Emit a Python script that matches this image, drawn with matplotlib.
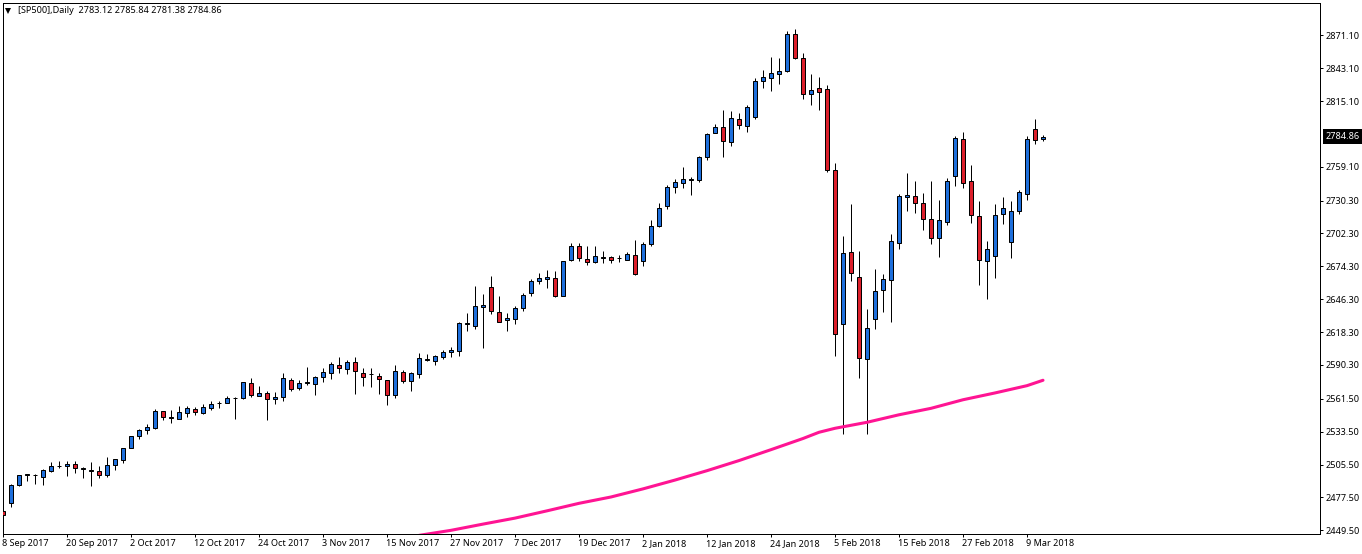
import matplotlib
matplotlib.use("Agg")
import matplotlib.pyplot as plt
from matplotlib.transforms import ScaledTranslation, blended_transform_factory

plt.rcParams['font.family'] = ['Noto Sans', 'DejaVu Sans']

bar_open = [2466.3,2472.8,2487.8,2496.6,2496.6,2494.9,2500.0,2504.0,2504.3,2506.3,
 2502.0,2500.2,2500.3,2496.6,2505.1,2509.4,2519.6,2529.8,2534.9,2536.6,
 2550.9,2545.2,2544.6,2549.7,2553.2,2549.4,2553.7,2557.6,2558.3,2561.9,
 2562.2,2575.3,2564.2,2566.8,2561.3,2563.0,2577.5,2570.7,2575.0,2574.1,
 2580.4,2583.8,2590.6,2587.2,2593.2,2583.8,2582.3,2581.3,2577.9,2565.1,
 2584.7,2576.7,2583.0,2594.8,2594.0,2597.4,2601.4,2602.2,2625.2,2623.5,
 2639.7,2657.1,2635.8,2628.6,2629.8,2639.2,2651.9,2662.2,2663.9,2664.7,
 2649.4,2680.1,2692.0,2680.9,2678.4,2681.7,2682.6,2681.1,2680.1,2684.3,
 2679.2,2693.7,2709.0,2725.5,2742.2,2745.3,2748.2,2748.2,2767.8,2788.2,
 2793.3,2780.5,2800.1,2794.2,2801.8,2832.5,2835.1,2838.5,2841.0,2872.5,
 2852.1,2821.4,2826.5,2825.7,2756.7,2625.5,2686.9,2665.6,2595.7,2629.8,
 2654.5,2663.0,2694.5,2733.7,2734.6,2728.6,2715.0,2698.8,2712.4,2751.6,
 2783.1,2747.3,2717.5,2679.2,2683.5,2719.2,2695.4,2721.8,2736.3,2791.6,2783.12]
bar_high = [2468.0,2489.3,2496.9,2497.8,2497.8,2502.0,2507.4,2508.3,2508.9,2508.3,
 2503.4,2507.4,2504.0,2511.7,2510.6,2519.9,2530.2,2536.1,2540.4,2553.2,
 2551.4,2552.3,2555.1,2555.1,2554.3,2557.4,2559.6,2560.0,2564.2,2563.0,
 2576.1,2579.6,2572.1,2568.5,2567.0,2583.2,2579.6,2577.9,2588.3,2581.3,
 2588.1,2593.2,2596.8,2594.9,2596.8,2587.5,2587.5,2583.8,2577.9,2590.0,
 2586.4,2584.7,2600.8,2600.0,2599.1,2603.4,2606.0,2627.3,2634.3,2657.3,
 2650.5,2665.8,2648.8,2634.3,2640.9,2651.9,2663.9,2669.0,2671.5,2670.1,
 2679.2,2694.5,2694.5,2692.0,2692.0,2687.7,2683.5,2684.3,2686.9,2697.1,
 2695.4,2714.1,2728.6,2743.3,2748.5,2758.7,2750.7,2768.6,2788.2,2795.9,
 2807.2,2806.4,2805.3,2812.1,2835.1,2841.9,2853.0,2852.1,2874.5,2876.8,
 2856.4,2838.5,2835.9,2829.1,2762.7,2700.5,2727.7,2687.7,2638.3,2672.4,
 2668.1,2702.2,2736.3,2754.2,2747.3,2737.1,2747.3,2731.2,2749.9,2785.7,
 2789.1,2761.0,2730.3,2696.2,2727.7,2733.7,2730.3,2739.7,2785.7,2800.1,2785.84]
bar_low = [2457.4,2469.3,2487.0,2491.5,2488.9,2487.8,2499.2,2502.6,2495.7,2498.3,
 2494.0,2487.2,2494.0,2494.9,2500.6,2506.8,2519.6,2527.0,2531.3,2535.8,
 2543.4,2540.9,2544.6,2546.0,2547.7,2548.9,2552.3,2553.4,2558.3,2544.3,
 2561.3,2563.0,2564.2,2543.4,2557.1,2559.6,2568.1,2569.0,2573.6,2564.7,
 2575.8,2578.4,2583.5,2583.0,2565.6,2572.4,2571.5,2565.6,2556.2,2562.2,
 2575.3,2568.1,2579.2,2593.7,2590.3,2595.7,2597.1,2598.0,2619.2,2620.9,
 2604.8,2633.7,2627.3,2619.2,2625.2,2636.3,2649.1,2659.3,2655.9,2648.2,
 2649.4,2678.9,2678.9,2675.5,2677.2,2677.2,2677.2,2678.0,2680.1,2666.9,
 2674.6,2691.6,2707.8,2723.2,2736.8,2741.0,2735.1,2746.1,2764.9,2788.2,
 2767.4,2776.8,2791.3,2788.7,2799.8,2826.2,2823.7,2829.6,2839.8,2850.9,
 2816.8,2811.7,2807.5,2754.7,2598.0,2531.9,2661.8,2579.2,2531.9,2620.9,
 2635.4,2626.9,2689.1,2721.5,2719.7,2705.3,2693.3,2682.3,2709.5,2742.7,
 2741.0,2711.2,2658.4,2646.5,2664.4,2710.4,2681.4,2718.9,2730.8,2778.5,2781.38]
bar_close = [2462.5,2488.4,2496.9,2497.8,2496.9,2501.2,2504.6,2504.6,2506.3,2502.6,
 2502.6,2501.0,2496.6,2505.5,2510.6,2519.9,2530.2,2535.3,2537.8,2551.4,
 2546.3,2545.8,2550.6,2554.0,2550.3,2554.9,2557.4,2558.2,2562.5,2562.5,
 2575.5,2564.7,2566.8,2561.3,2563.4,2579.6,2570.2,2575.3,2575.6,2580.1,
 2584.7,2591.5,2588.1,2593.2,2585.5,2580.4,2582.9,2578.4,2565.1,2585.5,
 2576.7,2583.8,2596.6,2595.4,2598.3,2601.7,2603.4,2626.4,2625.8,2640.9,
 2641.7,2636.6,2627.3,2630.7,2639.2,2650.2,2662.2,2664.7,2665.6,2649.4,
 2679.2,2692.0,2681.8,2678.0,2683.5,2682.3,2680.1,2681.7,2685.2,2668.1,
 2693.7,2709.0,2724.3,2741.9,2746.5,2749.0,2748.8,2767.8,2787.4,2793.0,
 2781.4,2801.0,2795.0,2810.4,2832.5,2835.9,2839.3,2841.0,2872.5,2852.1,
 2821.4,2824.8,2823.1,2756.7,2617.0,2686.0,2669.0,2596.6,2622.1,2653.7,
 2663.9,2696.2,2734.6,2735.4,2728.6,2715.0,2698.8,2714.1,2747.3,2784.0,
 2745.6,2718.4,2680.1,2689.4,2718.4,2724.3,2721.8,2738.0,2783.1,2782.3,2784.86]

ma_index = [52,56,60,64,68,72,76,80,84,88,92,96,100,102,104,108,112,116,120,124,128,130]
ma_value = [2445.2,2449.5,2454.8,2459.9,2466.1,2472.5,2477.9,2484.8,2492.3,2500.3,2508.9,
            2518.2,2527.7,2533.0,2536.4,2541.5,2547.9,2553.4,2560.7,2566.5,2572.7,2577.3]

date_labels = ['8 Sep 2017','20 Sep 2017','2 Oct 2017','12 Oct 2017','24 Oct 2017','3 Nov 2017',
               '15 Nov 2017','27 Nov 2017','7 Dec 2017','19 Dec 2017','2 Jan 2018','12 Jan 2018',
               '24 Jan 2018','5 Feb 2018','15 Feb 2018','27 Feb 2018','9 Mar 2018']
date_index = [i*8 for i in range(len(date_labels))]
price_ticks = [2871.10,2843.10,2815.10,2759.10,2730.30,2702.30,2674.30,2646.30,2618.30,
               2590.30,2561.50,2533.50,2505.50,2477.50,2449.50]
last_price = 2784.86
header = '[SP500],Daily  2783.12 2785.84 2781.38 2784.86'

W, H = 1362, 554
FS = 6.55
LW = 0.72
fig = plt.figure(figsize=(W/100, H/100), dpi=100, facecolor='white')
ax = fig.add_axes([2.5/W, (H-533.5)/H, 1317/W, 531/H])
ax.set_xlim(-0.0625, 164.5625)
ax.set_ylim(2446.8, 2899.0)

xs = list(range(len(bar_open)))
ax.vlines(xs, bar_low, bar_high, color='black', linewidth=LW, zorder=2)
bottoms = [min(o, c) for o, c in zip(bar_open, bar_close)]
heights = [abs(c-o) for o, c in zip(bar_open, bar_close)]
colors = ['#1E6FDC' if c >= o else '#DC1F2B' for o, c in zip(bar_open, bar_close)]
ax.bar(xs, heights, bottom=bottoms, width=0.56, color=colors, edgecolor='black',
       linewidth=LW, zorder=3)
ax.plot(ma_index, ma_value, color='#FF1493', linewidth=2.2, zorder=4, solid_capstyle='round')

for s in ax.spines.values():
    s.set_linewidth(LW)
    s.set_color('black')

ax.yaxis.tick_right()
ax.set_yticks(price_ticks)
ax.set_yticklabels(['%.2f' % p for p in price_ticks])
ax.tick_params(axis='y', length=2.5, width=LW, pad=1.6, labelsize=FS)
ax.set_xticks(date_index)
ax.set_xticklabels(date_labels)
ax.tick_params(axis='x', length=2.5, width=LW, pad=1.8, labelsize=FS)
off = ScaledTranslation(-1/100, 0, fig.dpi_scale_trans)
for lab in ax.get_xticklabels():
    lab.set_ha('left')
    lab.set_transform(lab.get_transform() + off)

tr = blended_transform_factory(ax.transAxes, ax.transData)
ax.text(1.0+6/1317, last_price, '%.2f' % last_price, transform=tr, color='white', fontsize=FS,
        va='center', ha='left', clip_on=False,
        bbox=dict(boxstyle='square,pad=0.3', facecolor='black', edgecolor='black', linewidth=0))

ax.plot([5.8/1317], [1-8.5/531], marker='v', color='black', markersize=4, markeredgewidth=0,
        transform=ax.transAxes, clip_on=False)
ax.text(15.5/1317, 1-8/531, header, transform=ax.transAxes, fontsize=FS, va='center', ha='left')

fig.savefig('out.png', dpi=100)
